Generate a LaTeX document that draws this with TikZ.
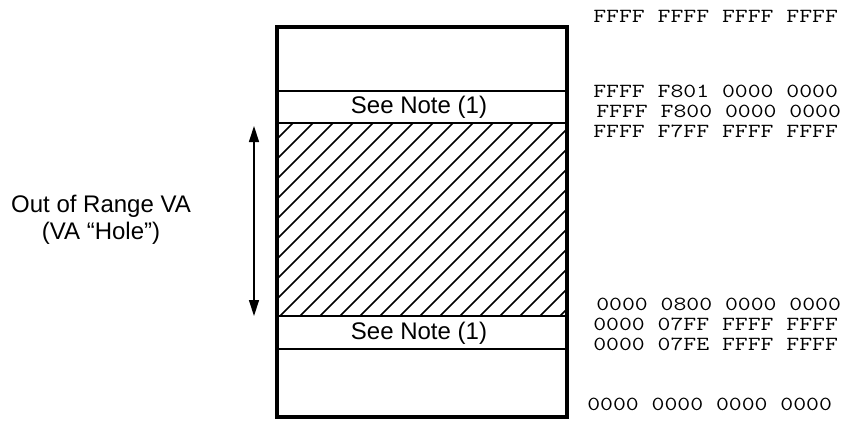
\documentclass[tikz,border=0pt]{standalone}
\usepackage{fontspec}
\setmainfont{Liberation Sans}
\usetikzlibrary{arrows.meta}
\begin{document}
\begin{tikzpicture}[x=0.75pt, y=-0.75pt,
    label/.style={font=\fontsize{18}{20}\selectfont, align=center, inner sep=0pt},
    addr/.style={font=\ttfamily\fontsize{15}{17}\selectfont, anchor=west, xscale=1.25, inner sep=0pt}]

    \useasboundingbox (0,0) rectangle (841,435);

    %% Address space
    % Hole (hatched)
    \begin{scope}
        \clip (277,123) rectangle (567,316);
        \foreach \x in {80,100,...,580}
            \draw[line width=1.1pt] (\x,316) -- (\x+193,123);
    \end{scope}

    % Region borders
    \draw[line width=1.2pt, fill=white] (277,91) rectangle (567,123);
    \draw[line width=1.2pt, fill=white] (277,316) rectangle (567,349);
    \node[label] (noteHi) at (419,107) {See Note (1)};
    \node[label] (noteLo) at (419,333) {See Note (1)};

    % Outer box
    \draw[line width=2.4pt] (277,27) rectangle (567,417);

    % Hole extent
    \coordinate (holeTop) at (254,126);
    \coordinate (holeBot) at (254,316);
    \draw[{Triangle[width=7.5pt,length=12pt]}-{Triangle[width=7.5pt,length=12pt]}, line width=1pt] (holeTop) -- (holeBot);
    \node[label] (hole) at (101,220) {Out of Range VA\\(VA “Hole”)};

    % Addresses
    \node[addr] (a1) at (593,16) {FFFF FFFF FFFF FFFF};
    \node[addr] (a2) at (593,91) {FFFF F801 0000 0000};
    \node[addr] (a3) at (596,111) {FFFF F800 0000 0000};
    \node[addr] (a4) at (593,131) {FFFF F7FF FFFF FFFF};
    \node[addr] (a5) at (596,304) {0000 0800 0000 0000};
    \node[addr] (a6) at (593,324) {0000 07FF FFFF FFFF};
    \node[addr] (a7) at (593,344) {0000 07FE FFFF FFFF};
    \node[addr] (a8) at (587,404) {0000 0000 0000 0000};

\end{tikzpicture}
\end{document}
